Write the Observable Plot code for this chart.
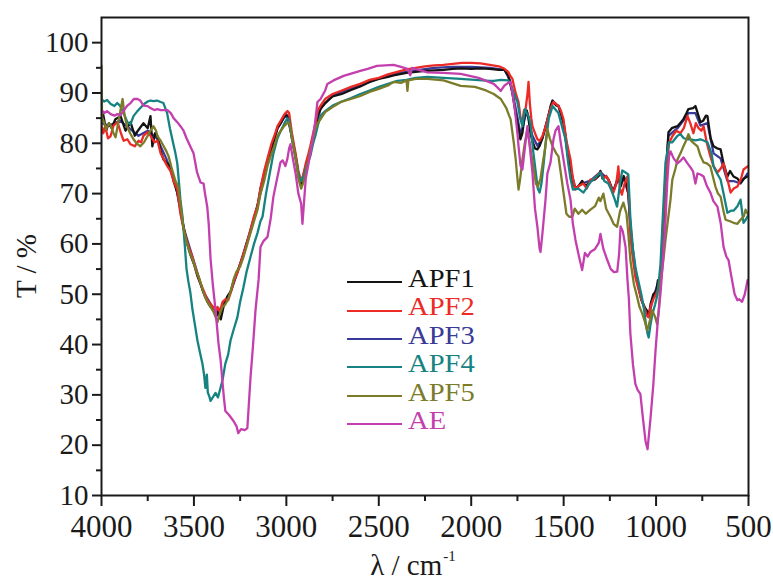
<!DOCTYPE html>
<html><head><meta charset="utf-8">
<script src="https://cdn.jsdelivr.net/npm/d3@7"></script>
<script src="https://cdn.jsdelivr.net/npm/@observablehq/plot@0.6"></script>
<style>
html,body{margin:0;padding:0;background:#fff;overflow:hidden}
#wrap{position:relative;width:773px;height:581px;font-family:"Liberation Serif","Times New Roman",serif;color:#1a1a1a;background:#fff}
#chart{position:absolute;left:0;top:0}
.ylab{position:absolute;left:26px;top:266px;transform:translate(-50%,-50%) rotate(-90deg);font-size:29px;line-height:1;white-space:nowrap}
.xlab{position:absolute;left:413px;top:551px;transform:translateX(-50%);font-size:29px;line-height:1;white-space:nowrap}
.xlab sup{font-size:15px;vertical-align:0;position:relative;top:-14px;margin-left:1px}
#legend{position:absolute;left:347px;top:268px}
.row{display:flex;align-items:center;height:28.4px}
.row .ln{width:55px;height:0;border-top:2.5px solid;margin-right:6px}
.row .tx{font-size:25.5px;line-height:28.4px;position:relative;top:-3px;display:inline-block;transform:scaleX(1.12);transform-origin:0 50%}
</style></head>
<body><div id="wrap"><div id="chart"></div><div id="legend"></div><div class="ylab">T / %</div><div class="xlab">λ / cm<sup>-1</sup></div></div>
<script>
// ---- data: [wavenumber (cm-1), transmittance (%)] ----
const seriesNames = ["APF1", "APF2", "APF3", "APF4", "APF5", "AE"];
const xTicks = [4000, 3500, 3000, 2500, 2000, 1500, 1000, 500];
const xMinorTicks = [3750, 3250, 2750, 2250, 1750, 1250, 750];
const yTicks = [10, 20, 30, 40, 50, 60, 70, 80, 90, 100];
const yMinorTicks = [15, 25, 35, 45, 55, 65, 75, 85, 95];

const apf1 = [[4000,84.5],[3990,85.6],[3975,82.5],[3960,84],[3945,83],[3925,84.8],[3897,85.4],[3870,82.5],[3843,84.2],[3820,81.5],[3805,82.4],[3773,84],[3750,83],[3735,85.4],[3725,79.4],[3710,82],[3697,81.4],[3680,78.5],[3665,76.8],[3645,76],[3627,75.4],[3610,72.5],[3590,70.2],[3570,66.5],[3556,63.4],[3540,60.5],[3520,58],[3500,56],[3480,53.5],[3464,52],[3445,50],[3427,48.5],[3410,47.5],[3394,47],[3380,45.5],[3370,46.5],[3355,45],[3340,47.5],[3320,49.5],[3302,50.5],[3285,52.5],[3265,54.5],[3250,56],[3232,57.8],[3215,60],[3194,62.5],[3175,65],[3156,67.5],[3140,71],[3120,74],[3102,76.5],[3080,79],[3060,81.5],[3048,83],[3030,84],[3010,85.5],[2994,85.5],[2985,84.5],[2970,81],[2950,77.5],[2935,74],[2920,71.5],[2910,73],[2895,75],[2880,77],[2870,79],[2855,81],[2843,83],[2830,85.5],[2815,86.8],[2790,88],[2750,89.3],[2700,89.8],[2650,90.6],[2600,91.3],[2550,92.2],[2500,92.8],[2450,93.2],[2420,93.5],[2350,94],[2300,94.2],[2250,94.4],[2200,94.5],[2150,94.6],[2100,94.8],[2050,94.9],[2000,94.8],[1950,94.9],[1900,94.8],[1850,94.6],[1820,94.6],[1800,93.5],[1790,92],[1777,90],[1760,86],[1744,83],[1734,80.8],[1723,82],[1710,86],[1700,86.5],[1690,85],[1680,82],[1669,80.5],[1655,79],[1642,78.8],[1630,79.5],[1615,81],[1600,83],[1582,85.5],[1570,87.5],[1560,88.5],[1550,88],[1540,87.5],[1528,87.5],[1515,86],[1501,84],[1490,81],[1475,77],[1463,74],[1450,72],[1436,71],[1420,71.5],[1400,72.5],[1380,71.5],[1355,72.5],[1330,72.8],[1310,73.5],[1301,74.5],[1290,73],[1270,73.5],[1258,72.8],[1240,71],[1231,70.5],[1215,72],[1204,73],[1190,71.5],[1175,73.5],[1160,72],[1150,70],[1139,64],[1125,58],[1110,54],[1095,51.5],[1080,49],[1065,47.5],[1050,46.8],[1040,45.5],[1030,48],[1015,50],[1000,50.5],[990,52.8],[976,52.8],[965,60],[949,72.8],[933,82.2],[915,83],[900,83.2],[884,83.4],[870,84],[852,84.8],[835,86],[825,86.8],[800,87],[787,87.4],[775,86],[760,84.2],[745,84.5],[730,85.5],[722,85.4],[705,81],[689,79.4],[670,79],[651,78.8],[635,76],[614,73.4],[600,74.5],[581,73.4],[560,73],[543,72.2],[525,73],[505,73.4]];

const apf2 = [[4000,83.5],[3990,82],[3980,83.5],[3965,81],[3951,81.4],[3935,83.5],[3913,84.2],[3895,82],[3880,80.5],[3860,80.8],[3843,79.8],[3820,79.4],[3800,80.5],[3786,80.2],[3773,81.5],[3750,82.2],[3735,81.5],[3713,80.2],[3697,80.5],[3680,78],[3665,77],[3645,75.5],[3627,74.5],[3610,72.5],[3590,70.8],[3573,66],[3556,63],[3546,61.4],[3525,59],[3508,57.4],[3490,55],[3464,52.2],[3445,50.5],[3427,48.8],[3410,48],[3394,47.4],[3383,46.5],[3373,47.5],[3360,46.5],[3345,48.5],[3330,49],[3315,48.8],[3302,50.2],[3285,52.5],[3265,54.2],[3250,56],[3232,58],[3215,60],[3194,62.8],[3175,65.5],[3156,67.5],[3140,71],[3120,74.5],[3102,77],[3080,80],[3060,82],[3048,83.4],[3030,84.5],[3010,85.8],[2994,86.4],[2985,86],[2970,82],[2950,78],[2935,74.5],[2920,72.5],[2910,73.5],[2895,76],[2880,78],[2870,79.5],[2855,82],[2843,84],[2830,86.5],[2815,87.5],[2790,88.8],[2750,89.8],[2700,90.5],[2650,91.2],[2600,91.8],[2550,92.6],[2500,93],[2450,93.7],[2400,94.2],[2350,94.7],[2300,95],[2250,95.3],[2200,95.5],[2150,95.6],[2100,95.8],[2050,96],[2000,96],[1950,95.9],[1900,95.6],[1850,95.3],[1820,94.8],[1800,94.2],[1790,93.5],[1777,92.8],[1760,90],[1744,88.2],[1733,85],[1723,84.2],[1715,86.5],[1705,87],[1695,90],[1690,92.2],[1683,88],[1675,85],[1669,83.4],[1655,82],[1642,80.8],[1630,80.5],[1615,81.4],[1600,83],[1582,85.4],[1570,87],[1555,88.2],[1540,87.8],[1528,87.4],[1515,86.5],[1501,84.8],[1485,80.5],[1463,76.8],[1450,73],[1436,70.8],[1420,71.5],[1393,72],[1375,71],[1355,72.8],[1330,73],[1315,73.8],[1301,74.2],[1285,73],[1270,73.5],[1258,72.8],[1245,71.5],[1231,70.2],[1215,72],[1204,75.4],[1195,71],[1185,69.8],[1170,72],[1155,73.4],[1145,68],[1139,61.4],[1125,57],[1112,53.4],[1095,51],[1080,49],[1065,47.5],[1050,45.8],[1040,45.4],[1030,47.5],[1015,49],[1000,50],[990,51],[976,53],[965,62],[949,72.8],[930,80],[912,81.4],[890,82.5],[868,82],[850,83],[830,85.4],[815,84],[798,82],[785,84],[770,83],[755,82.5],[743,83.4],[725,80],[706,77.4],[690,75.5],[668,74.2],[650,75],[635,76],[615,73],[597,70.2],[580,71],[560,71.4],[540,73],[527,74.8],[505,75.4]];

const apf3 = [[4000,84],[3960,83.5],[3900,84.5],[3850,83],[3800,81.5],[3750,82.5],[3700,81],[3650,77],[3600,72],[3556,63.2],[3500,56.5],[3450,50.5],[3400,47.5],[3370,46.5],[3340,48],[3300,50.5],[3250,56],[3200,62],[3150,68.5],[3100,76.5],[3048,83],[3000,85.8],[2970,81.5],[2935,74],[2920,72],[2895,75.5],[2850,81.5],[2815,87],[2750,89.5],[2700,90.2],[2600,91.5],[2500,92.9],[2400,93.9],[2300,94.5],[2200,95],[2100,95.2],[2000,95.2],[1900,95],[1820,94.6],[1790,92.5],[1760,87],[1734,82],[1723,83],[1700,86.5],[1669,81.5],[1642,79.5],[1615,81],[1582,85.5],[1560,88.3],[1528,87.4],[1501,84.2],[1463,75],[1436,71],[1400,72],[1355,72.6],[1301,74.3],[1258,72.8],[1231,70.5],[1204,73.5],[1170,72.5],[1150,70],[1139,63],[1110,54],[1080,49],[1050,46.5],[1040,45.5],[1015,49.5],[990,52],[976,53],[949,72.8],[933,81.5],[884,83],[852,84.5],[825,86],[787,86],[760,83.5],[722,84],[689,78],[651,77],[614,72.5],[581,72.5],[543,72],[505,74]];

const apf4 = [[4000,88.8],[3985,88.3],[3970,88.6],[3950,87.8],[3930,87.4],[3915,88],[3900,87.5],[3880,86],[3860,84.2],[3843,83.8],[3827,85.4],[3810,86.2],[3790,87],[3770,87.8],[3750,88.3],[3735,88.5],[3719,88.4],[3700,88.5],[3680,88.2],[3665,88],[3645,86],[3630,83],[3617,80.8],[3600,78],[3590,76],[3573,68.8],[3562,65.4],[3550,60],[3540,55],[3530,52.5],[3520,50.5],[3508,47],[3495,44],[3481,40.8],[3468,38.5],[3454,36.2],[3445,34],[3438,31.4],[3430,34],[3425,30.5],[3415,29.5],[3410,28.8],[3398,29.5],[3383,30.4],[3370,29.5],[3356,31.4],[3345,33],[3330,36.2],[3315,38],[3302,40.8],[3285,43],[3265,45.4],[3250,48.5],[3232,51.4],[3215,54.5],[3194,57.4],[3175,60],[3156,62.2],[3140,64.5],[3129,65.4],[3110,70],[3090,74],[3070,78],[3048,81],[3030,82.5],[3010,84],[2994,85],[2985,84.5],[2970,81],[2950,77],[2935,74],[2920,72.5],[2905,73.5],[2890,75.5],[2870,77.5],[2855,80],[2843,81.5],[2830,83.5],[2815,85.5],[2790,86.4],[2750,87.5],[2700,88.3],[2650,89],[2600,89.8],[2550,90.5],[2500,91.2],[2450,91.8],[2400,92.4],[2350,92.6],[2300,93],[2237,93.2],[2150,93],[2057,92.8],[1980,92.6],[1900,92.4],[1878,92.4],[1840,92.6],[1800,92.5],[1787,91.8],[1770,90],[1750,88.2],[1735,85],[1723,83.4],[1710,86.8],[1700,86],[1690,85.4],[1680,84],[1664,78.2],[1650,74],[1640,71],[1630,70.2],[1620,72],[1608,76],[1598,80],[1580,85],[1560,87.4],[1540,86.5],[1528,86],[1510,83.5],[1490,80.8],[1475,76],[1463,73],[1450,70.8],[1420,71],[1393,70.2],[1370,71.5],[1350,72.5],[1320,73.5],[1301,74.2],[1280,72.5],[1258,72],[1240,70.5],[1225,69],[1211,67.4],[1195,72],[1183,74.6],[1165,74.2],[1150,73.8],[1139,65],[1125,59],[1110,55],[1095,52.5],[1080,50],[1065,47],[1055,44],[1045,42],[1040,41.4],[1030,44],[1020,46],[1005,48],[992,50],[976,56],[960,68],[949,76.2],[930,80.2],[912,80.2],[884,81.5],[868,81.8],[850,81],[830,80.8],[814,80.8],[787,80.6],[760,80.8],[740,80.5],[722,80.2],[700,78],[689,75.4],[670,74],[651,72.8],[635,70],[614,66.2],[595,66.6],[581,66.6],[560,67.5],[543,68.8],[527,64.2],[515,64.8],[505,65.5]];

const apf5 = [[4000,95.4],[3997,85.2],[3985,84],[3975,82.8],[3960,84],[3950,83.5],[3935,82],[3924,81.2],[3910,84],[3895,87],[3886,88.8],[3875,85.5],[3862,83.4],[3845,82],[3827,80.8],[3810,80],[3790,79.4],[3770,80.2],[3750,81.5],[3735,82.5],[3719,83.4],[3705,82.5],[3697,81.4],[3680,80.5],[3665,79.5],[3650,78.5],[3637,77.4],[3620,75],[3600,72.5],[3585,71.4],[3573,68],[3556,63],[3540,60.5],[3525,58.5],[3508,57],[3490,55],[3470,53],[3454,51],[3440,49.5],[3427,48.5],[3410,47.5],[3394,46.5],[3383,45.5],[3373,44.4],[3365,45.5],[3356,46.5],[3345,47.5],[3330,48],[3315,49],[3302,50.5],[3285,53],[3270,54.5],[3250,55.5],[3232,57.4],[3215,59.5],[3194,62.2],[3175,64.5],[3156,66.8],[3140,70],[3120,72.5],[3102,75.5],[3080,78],[3060,80],[3048,81.5],[3030,82.5],[3010,83.5],[2990,84.2],[2980,83.5],[2965,80],[2950,77],[2935,73],[2920,71],[2910,72],[2895,74],[2880,76.5],[2870,78.8],[2855,81],[2843,82.8],[2830,84],[2815,84.8],[2790,86.2],[2750,87.2],[2700,88.3],[2650,88.8],[2600,89.4],[2550,90.2],[2500,90.8],[2450,91.5],[2420,92.2],[2380,92],[2350,92.5],[2345,90.4],[2340,92.5],[2300,92.8],[2237,92.8],[2150,92.5],[2057,91.4],[1980,91.2],[1920,90.5],[1878,89.8],[1840,88.8],[1810,87],[1795,85.5],[1787,84.8],[1770,80.2],[1760,77],[1750,73],[1744,70.8],[1735,73],[1723,76.8],[1710,80],[1696,82.8],[1680,79],[1664,75.4],[1650,72],[1640,71.4],[1625,73],[1610,76.8],[1600,79],[1588,82.8],[1575,81],[1560,79.4],[1540,78],[1528,77.4],[1515,74],[1500,70],[1485,66],[1470,65.4],[1453,65.4],[1440,67],[1420,66],[1400,66.8],[1380,66],[1355,66.8],[1330,67.5],[1310,69.2],[1301,68.5],[1285,70],[1270,67],[1247,65.4],[1230,64],[1211,63.4],[1195,66.5],[1177,68.2],[1160,66],[1150,62],[1139,56.8],[1120,52],[1102,49.4],[1090,47.5],[1075,46.2],[1060,44.5],[1048,42.8],[1035,44.5],[1021,46.8],[1005,45.5],[994,44],[985,47],[976,52.2],[960,57],[949,60.8],[935,65],[922,68.8],[912,72.8],[895,75],[884,76.8],[868,78],[852,79.4],[838,80.5],[825,81.8],[810,80.5],[795,80],[776,79.4],[760,77.5],[743,76.2],[725,76],[706,75.4],[690,73],[679,71.4],[665,70],[651,69.4],[635,66.5],[624,64.8],[600,64.5],[581,64.2],[560,64],[543,64.8],[525,65.5],[516,66.8],[505,66]];

const ae = [[4000,86.6],[3985,86],[3970,86.4],[3950,85.8],[3930,85.5],[3913,85.8],[3897,85.6],[3880,86.5],[3860,87.5],[3843,88],[3825,88.8],[3805,88.8],[3790,88.5],[3773,87.5],[3750,87.4],[3735,87],[3715,86.6],[3697,86.8],[3680,86.6],[3665,86.6],[3643,86.6],[3625,86],[3610,85],[3590,84.2],[3573,83.4],[3556,82.5],[3540,81],[3530,80.2],[3515,79],[3502,78],[3483,74.2],[3464,72.2],[3448,72],[3440,70],[3428,67.4],[3420,64],[3410,57],[3398,52],[3383,46.8],[3367,40.2],[3356,37],[3346,32.8],[3338,29.5],[3330,26.8],[3310,26],[3286,24.8],[3270,23.8],[3260,22.4],[3245,23.2],[3225,23],[3211,23.4],[3194,33.4],[3180,40],[3167,46.8],[3150,53],[3140,59.4],[3125,60.5],[3102,61.4],[3085,65],[3070,69.4],[3050,73],[3032,76.2],[3020,76.6],[3005,75.5],[2994,77],[2985,79],[2978,79.8],[2965,77],[2950,74],[2935,70],[2920,68],[2913,64],[2905,68],[2895,73],[2886,74.8],[2875,77],[2860,80.2],[2845,84],[2832,88.2],[2815,88.8],[2790,90.5],[2778,91.8],[2745,92.5],[2690,93.4],[2600,94.4],[2560,94.8],[2510,95.4],[2420,95.6],[2380,95.2],[2345,94.8],[2330,93.5],[2320,95],[2237,94.1],[2150,94],[2057,93.8],[1960,93],[1878,91.8],[1850,90.8],[1840,90.4],[1820,91.5],[1800,92],[1787,92.2],[1777,90],[1766,87.4],[1750,82],[1744,79.4],[1733,75.5],[1723,74.8],[1710,79],[1696,83.4],[1685,80],[1669,74.2],[1655,67],[1642,63.4],[1630,59],[1625,58.4],[1615,62],[1598,68.8],[1588,74],[1571,76.2],[1555,80.8],[1544,82.5],[1528,83.4],[1515,80],[1501,76.8],[1480,72],[1463,68.8],[1450,64],[1436,60.8],[1420,58],[1400,54.8],[1385,58.2],[1370,57.5],[1355,58.4],[1330,59],[1310,60.2],[1301,62],[1285,59],[1264,56.8],[1245,55],[1228,54.4],[1210,54.5],[1200,58],[1192,63.5],[1180,62.5],[1165,59.4],[1155,53],[1147,49],[1139,42.2],[1125,36],[1112,32.2],[1100,31],[1085,30.2],[1070,25],[1057,20.8],[1046,19.2],[1030,25.4],[1015,32],[1003,38.8],[990,45],[976,50.2],[962,57],[949,64.8],[940,72],[930,77.4],[922,78.4],[905,77],[884,76],[868,76.5],[852,77.2],[830,76],[814,75.2],[800,74.4],[787,72],[776,74],[760,73.8],[743,73.4],[725,71.5],[706,70.2],[690,68.5],[668,67.4],[650,64],[635,59.4],[620,57.5],[608,56.8],[595,54],[575,50],[560,48.8],[550,49],[535,48.5],[520,50],[505,52.8]];

// ---- styling (kept separate from data) ----
const seriesValues = {APF1: apf1, APF2: apf2, APF3: apf3, APF4: apf4, APF5: apf5, AE: ae};
const palette = {APF1: "#141414", APF2: "#ec2a26", APF3: "#3a3a98", APF4: "#168282", APF5: "#7b7b2a", AE: "#c43fae"};
const drawOrder = ["APF3", "APF1", "APF2", "APF4", "APF5", "AE"];

const rows = drawOrder.flatMap(name => seriesValues[name].map(([wn, t]) => ({name, wn, t})));

const chart = Plot.plot({
  width: 773,
  height: 581,
  marginLeft: 101,
  marginRight: 25,
  marginTop: 17,
  marginBottom: 86,
  style: {background: "transparent", fontFamily: "'Liberation Serif','Times New Roman',serif", color: "#1a1a1a", overflow: "visible"},
  x: {domain: [4000, 500], label: null},
  y: {domain: [10, 105], label: null},
  marks: [
    Plot.line(rows, {x: "wn", y: "t", z: "name", stroke: d => palette[d.name], strokeWidth: 2.3, strokeLinejoin: "round", clip: true}),
    Plot.frame({stroke: "#1a1a1a", strokeWidth: 2}),
    Plot.axisX({ticks: xTicks, tickSize: 11, tickPadding: 8, strokeWidth: 2, fontSize: 31, tickFormat: d => String(d), label: null}),
    Plot.axisX({ticks: xMinorTicks, tickSize: 6, strokeWidth: 2, tickFormat: () => "", label: null}),
    Plot.axisY({ticks: yTicks, tickSize: 9, tickPadding: 4, strokeWidth: 2, fontSize: 29, tickFormat: d => String(d), label: null}),
    Plot.axisY({ticks: yMinorTicks, tickSize: 5, strokeWidth: 2, tickFormat: () => "", label: null})
  ]
});
document.getElementById("chart").appendChild(chart);

const legend = document.getElementById("legend");
seriesNames.forEach(name => {
  const row = document.createElement("div");
  row.className = "row";
  const ln = document.createElement("span");
  ln.className = "ln";
  ln.style.borderTopColor = palette[name];
  const tx = document.createElement("span");
  tx.className = "tx";
  tx.style.color = palette[name];
  tx.textContent = name;
  row.appendChild(ln); row.appendChild(tx);
  legend.appendChild(row);
});
</script>
</body></html>
